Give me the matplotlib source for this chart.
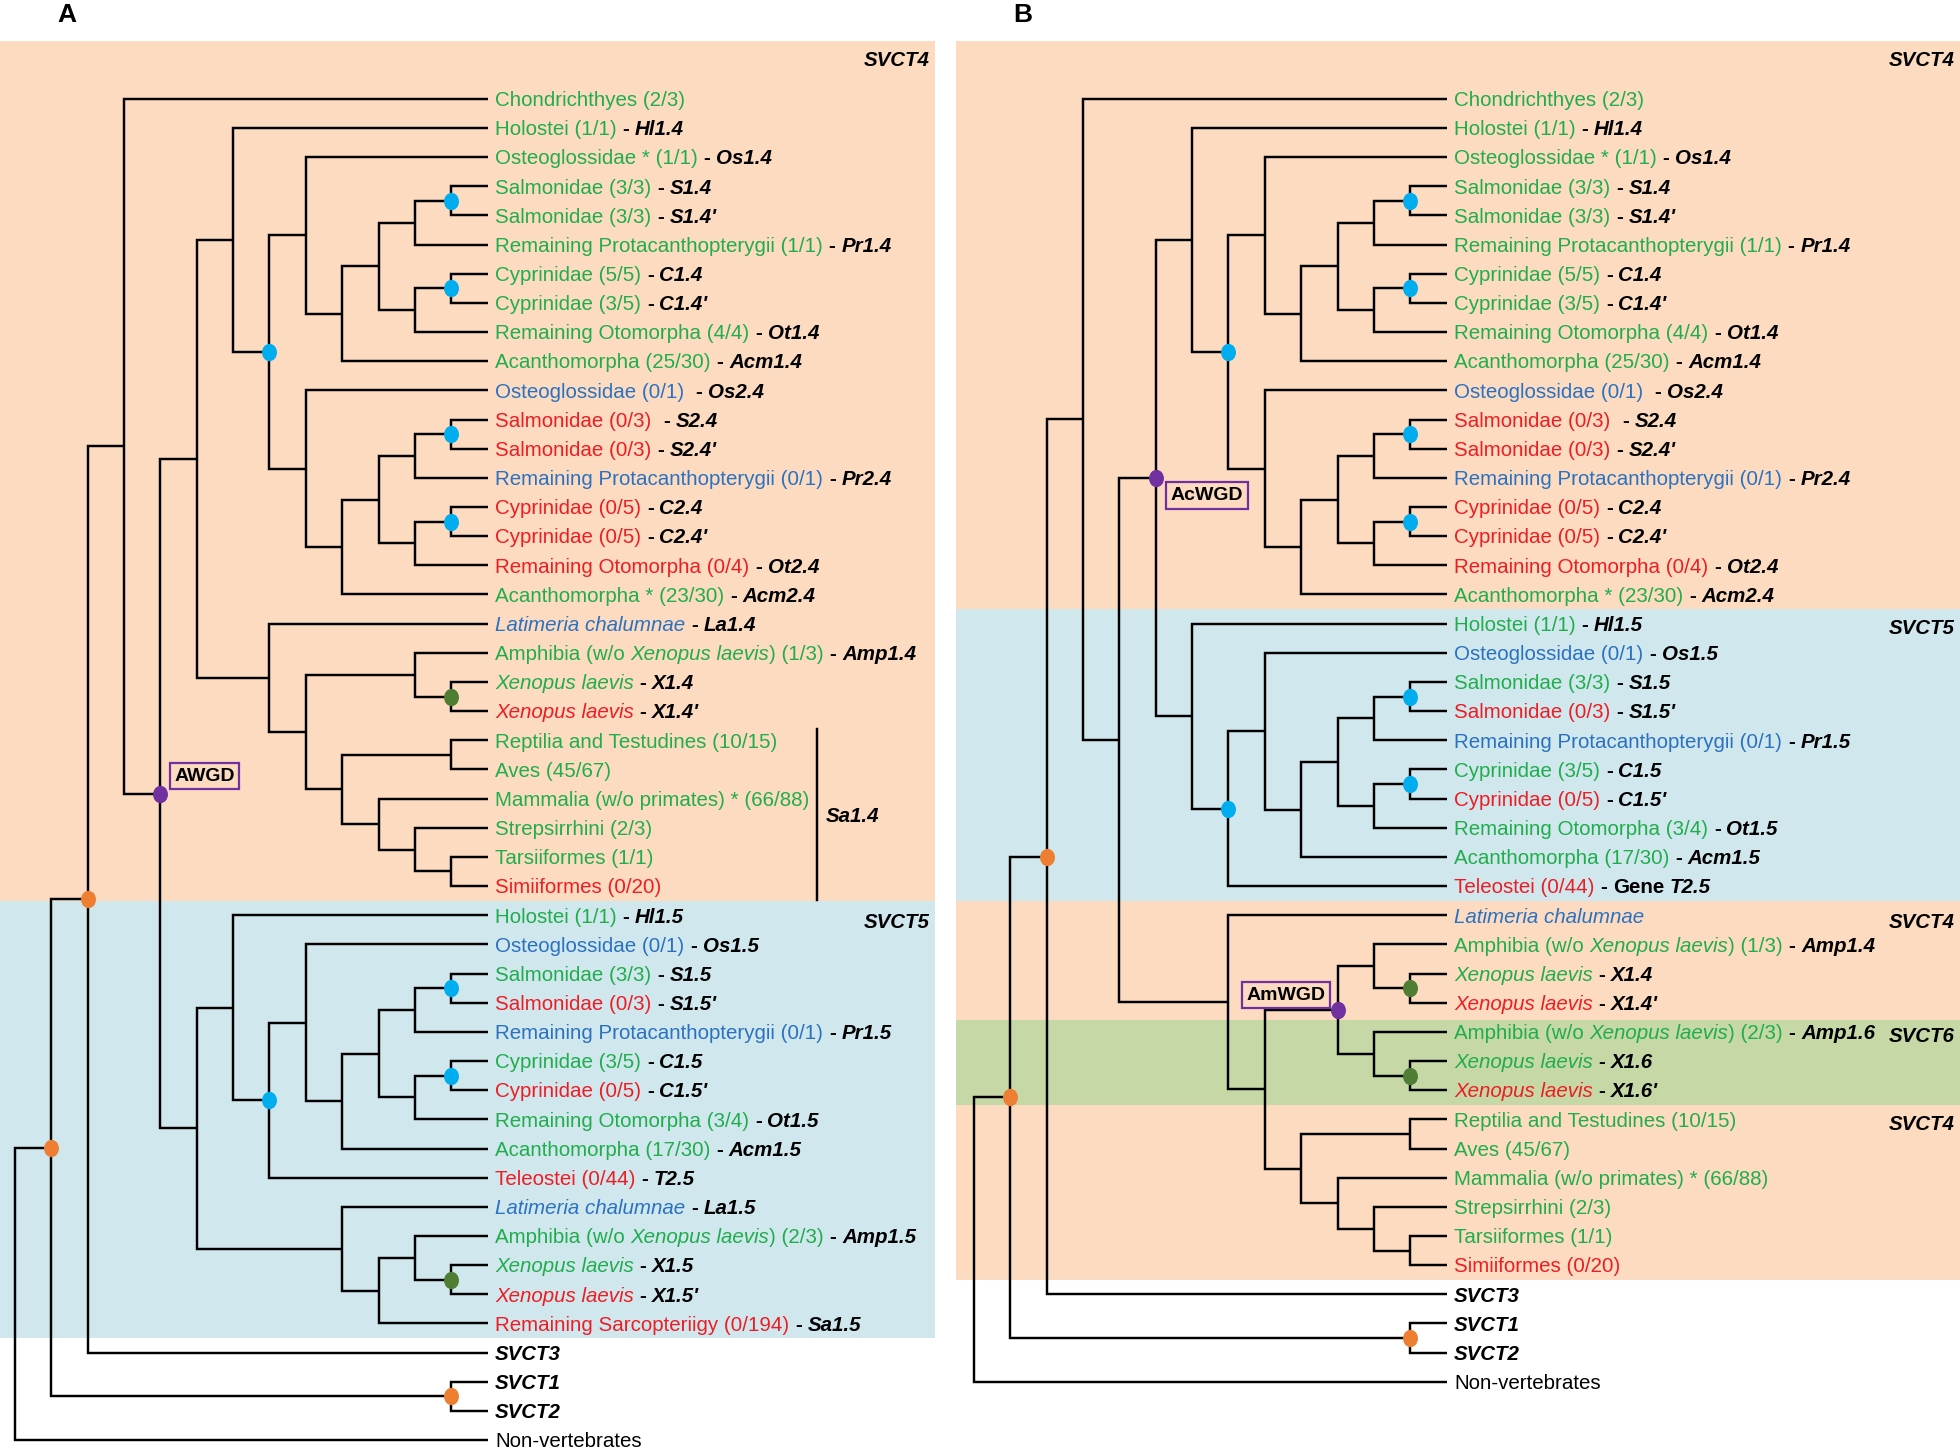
import matplotlib
matplotlib.use('Agg')
import matplotlib.pyplot as plt
from matplotlib.path import Path
from matplotlib.transforms import Affine2D
from matplotlib.markers import MarkerStyle

plt.rcParams['font.family'] = ['Liberation Sans', 'DejaVu Sans']

# colours
TEXT_COL = {'g': '#1fae4b', 'r': '#ee1d23', 'b': '#2a72c0', 'k': 'black'}
DOT_COL = {'o': '#ee7f32', 'b': '#00aeef', 'g': '#4e7d33', 'p': '#7030a0'}
BG_ORANGE = '#fcdbc0'
BG_BLUE = '#d0e7ee'
BG_GREEN = '#c6d8a6'

# ---------------- panel A leaves ----------------
a_names = [
    'Chondrichthyes (2/3)', 'Holostei (1/1)', 'Osteoglossidae * (1/1)', 'Salmonidae (3/3)', 'Salmonidae (3/3)',
    'Remaining Protacanthopterygii (1/1)', 'Cyprinidae (5/5)', 'Cyprinidae (3/5)', 'Remaining Otomorpha (4/4)',
    'Acanthomorpha (25/30)',
    'Osteoglossidae (0/1) ', 'Salmonidae (0/3) ', 'Salmonidae (0/3)', 'Remaining Protacanthopterygii (0/1)',
    'Cyprinidae (0/5)', 'Cyprinidae (0/5)', 'Remaining Otomorpha (0/4)', 'Acanthomorpha * (23/30)',
    '_Latimeria chalumnae_', 'Amphibia (w/o _Xenopus laevis_) (1/3)', '_Xenopus laevis_', '_Xenopus laevis_',
    'Reptilia and Testudines (10/15)', 'Aves (45/67)', 'Mammalia (w/o primates) * (66/88)', 'Strepsirrhini (2/3)',
    'Tarsiiformes (1/1)', 'Simiiformes (0/20)',
    'Holostei (1/1)', 'Osteoglossidae (0/1)', 'Salmonidae (3/3)', 'Salmonidae (0/3)',
    'Remaining Protacanthopterygii (0/1)', 'Cyprinidae (3/5)', 'Cyprinidae (0/5)', 'Remaining Otomorpha (3/4)',
    'Acanthomorpha (17/30)', 'Teleostei (0/44)',
    '_Latimeria chalumnae_', 'Amphibia (w/o _Xenopus laevis_) (2/3)', '_Xenopus laevis_', '_Xenopus laevis_',
    'Remaining Sarcopteriigy (0/194)',
    '', '', '', 'Non-vertebrates']
a_colors = 'gggggggggg' + 'brrbrrrg' + 'bggr' + 'gggggr' + 'gbgrbgrggr' + 'bggrr' + 'kkkk'
a_genes = [
    '', 'Hl1.4', 'Os1.4', 'S1.4', "S1.4'", 'Pr1.4', 'C1.4', "C1.4'", 'Ot1.4', 'Acm1.4',
    'Os2.4', 'S2.4', "S2.4'", 'Pr2.4', 'C2.4', "C2.4'", 'Ot2.4', 'Acm2.4',
    'La1.4', 'Amp1.4', 'X1.4', "X1.4'", '', '', '', '', '', '',
    'Hl1.5', 'Os1.5', 'S1.5', "S1.5'", 'Pr1.5', 'C1.5', "C1.5'", 'Ot1.5', 'Acm1.5', 'T2.5',
    'La1.5', 'Amp1.5', 'X1.5', "X1.5'", 'Sa1.5', 'SVCT3', 'SVCT1', 'SVCT2', '']
a_bands = [(-3, 27.5, BG_ORANGE), (27.5, 42.5, BG_BLUE)]
a_band_labels = [(-1.37, 'SVCT4'), (28.2, 'SVCT5')]

# ---------------- panel B leaves ----------------
b_names = a_names[:18] + [
    'Holostei (1/1)', 'Osteoglossidae (0/1)', 'Salmonidae (3/3)', 'Salmonidae (0/3)',
    'Remaining Protacanthopterygii (0/1)', 'Cyprinidae (3/5)', 'Cyprinidae (0/5)', 'Remaining Otomorpha (3/4)',
    'Acanthomorpha (17/30)', 'Teleostei (0/44)',
    '_Latimeria chalumnae_', 'Amphibia (w/o _Xenopus laevis_) (1/3)', '_Xenopus laevis_', '_Xenopus laevis_',
    'Amphibia (w/o _Xenopus laevis_) (2/3)', '_Xenopus laevis_', '_Xenopus laevis_',
    'Reptilia and Testudines (10/15)', 'Aves (45/67)', 'Mammalia (w/o primates) * (66/88)', 'Strepsirrhini (2/3)',
    'Tarsiiformes (1/1)', 'Simiiformes (0/20)',
    '', '', '', 'Non-vertebrates']
b_colors = 'gggggggggg' + 'brrbrrrg' + 'gbgrbgrggr' + 'bggrggr' + 'gggggr' + 'kkkk'
b_genes = a_genes[:18] + [
    'Hl1.5', 'Os1.5', 'S1.5', "S1.5'", 'Pr1.5', 'C1.5', "C1.5'", 'Ot1.5', 'Acm1.5', 'Gene T2.5',
    '', 'Amp1.4', 'X1.4', "X1.4'", 'Amp1.6', 'X1.6', "X1.6'",
    '', '', '', '', '', '',
    'SVCT3', 'SVCT1', 'SVCT2', '']
b_bands = [(-3, 17.5, BG_ORANGE), (17.5, 27.5, BG_BLUE), (27.5, 31.6, BG_ORANGE),
           (31.6, 34.5, BG_GREEN), (34.5, 40.5, BG_ORANGE)]
b_band_labels = [(-1.37, 'SVCT4'), (18.1, 'SVCT5'), (28.2, 'SVCT4'), (32.1, 'SVCT6'), (35.1, 'SVCT4')]


# ---------------- topologies (node level, children, dot colour, tag) ----------------
def node(level, kids, dot=None, tag=None):
    return {'level': level, 'kids': kids, 'dot': dot, 'tag': tag}


def teleosts(r):
    # Osteoglossidae, (((Salm, Salm'), Prot), ((Cyp, Cyp'), Otomorpha)), Acanthomorpha
    return node(8, [r, node(9, [node(10, [node(11, [node(12, [r + 1, r + 2], 'b'), r + 3]),
                                          node(11, [node(12, [r + 4, r + 5], 'b'), r + 6])]), r + 7])])


svct4_a = node(5, [node(6, [1, node(7, [teleosts(2), teleosts(10)], 'b')]),
                   node(7, [18, node(8, [node(11, [19, node(12, [20, 21], 'g')]),
                                         node(9, [node(12, [22, 23]),
                                                  node(10, [24, node(11, [25, node(12, [26, 27])])])])])])])
svct5_a = node(5, [node(6, [28, node(7, [teleosts(29), 37], 'b')]),
                   node(9, [38, node(10, [node(11, [39, node(12, [40, 41], 'g')]), 42])])])
tree_a = node(0, [node(1, [node(2, [node(3, [0, node(4, [svct4_a, svct5_a], 'p', 'AWGD')]), 43], 'o'),
                           node(12, [44, 45], 'o')], 'o'), 46])

acwgd_b = node(5, [node(6, [1, node(7, [teleosts(2), teleosts(10)], 'b')]),
                   node(6, [18, node(7, [teleosts(19), 27], 'b')])], 'p', 'AcWGD')
amwgd_b = node(10, [node(11, [29, node(12, [30, 31], 'g')]),
                    node(11, [32, node(12, [33, 34], 'g')])], 'p', 'AmWGD')
amniotes_b = node(9, [node(12, [35, 36]), node(10, [37, node(11, [38, node(12, [39, 40])])])])
tetra_b = node(7, [28, node(8, [amwgd_b, amniotes_b])])
tree_b = node(0, [node(1, [node(2, [node(3, [0, node(4, [acwgd_b, tetra_b])]), 41], 'o'),
                           node(12, [42, 43], 'o')], 'o'), 44])

# ---------------- style ----------------
TIP = 13
FS = 14.8
SPACE = 0.278 * FS
LW = 1.75
LABEL_PAD = 5.5
TEXT_DY = -1.3
DOT = MarkerStyle(Path.unit_circle().transformed(Affine2D().scale(0.86, 1.0)))
TAG_POS = {'AWGD': ((10, 6.5), 'left', 'bottom'),
           'AcWGD': ((10.5, -6.5), 'left', 'top'),
           'AmWGD': ((-8.5, 4.5), 'right', 'bottom')}


def draw_tree(ax, nd):
    if isinstance(nd, int):
        return TIP, nd
    pts = [draw_tree(ax, k) for k in nd['kids']]
    x = nd['level']
    y = (pts[0][1] + pts[-1][1]) / 2
    for cx, cy in pts:
        ax.plot([x, x, cx], [y, cy, cy], color='black', lw=LW,
                solid_joinstyle='miter', solid_capstyle='butt', zorder=2)
    if nd['dot']:
        ax.plot(x, y, marker=DOT, ms=12.5, color=DOT_COL[nd['dot']], mec='none', zorder=4)
    if nd['tag']:
        off, ha, va = TAG_POS[nd['tag']]
        ax.annotate(nd['tag'], (x, y), xytext=off, textcoords='offset points', ha=ha, va=va,
                    fontsize=14, fontweight='bold', zorder=5,
                    bbox=dict(boxstyle='square,pad=0.24', fc=BG_ORANGE, ec=DOT_COL['p'], lw=1.6))
    return x, y


def draw_label(ax, row, name, col, gene):
    pieces = []
    pending = 0
    for i, s in enumerate(name.split('_')):
        core = s.strip(' ')
        if not core:
            pending += len(s)
            continue
        lead = len(s) - len(s.lstrip(' '))
        pieces.append((core, TEXT_COL[col], 'normal', 'italic' if i % 2 else 'normal', pending + lead))
        pending = len(s) - len(s.rstrip(' '))
    if gene:
        words = gene.split(' ')
        if name:
            pieces.append(('-', 'black', 'bold', 'normal', pending + 1))
            pending = 1
        for w in words[:-1]:
            pieces.append((w, 'black', 'bold', 'normal', pending))
            pending = 1
        pieces.append((words[-1], 'black', 'bold', 'italic', pending))
    prev = None
    for text, c, wt, st, gap in pieces:
        if prev is None:
            prev = ax.annotate(text, (TIP, row), xytext=(LABEL_PAD, TEXT_DY), textcoords='offset points',
                               ha='left', va='center', fontsize=FS, color=c, fontweight=wt, fontstyle=st)
        else:
            prev = ax.annotate(text, (1, 0), xycoords=prev, xytext=(gap * SPACE, 0),
                               textcoords='offset points', ha='left', va='bottom',
                               fontsize=FS, color=c, fontweight=wt, fontstyle=st)


def draw_panel(ax, tree, names, colors, genes, bands, band_labels):
    for y0, y1, c in bands:
        ax.axhspan(y0, y1, color=c, lw=0, zorder=0)
    for y, t in band_labels:
        ax.annotate(t, (1, y), xycoords=('axes fraction', 'data'), xytext=(-4, TEXT_DY),
                    textcoords='offset points', ha='right', va='center',
                    fontsize=FS, fontweight='bold', fontstyle='italic')
    draw_tree(ax, tree)
    for row, (n, c, g) in enumerate(zip(names, colors, genes)):
        draw_label(ax, row, n, c, g)
    ax.set_axis_off()


W, H = 1960, 1448
fig = plt.figure(figsize=(W / 100, H / 100), dpi=100)
top = 1 - 41.25 / H
row0, drow = 98.75, 29.16
ylim = ((H - row0) / drow, (41.25 - row0) / drow)
step = 36.35

ax_a = fig.add_axes([0, 0, 935 / W, top])
ax_a.set_xlim(-15 / step, (935 - 15) / step)
ax_a.set_ylim(*ylim)
draw_panel(ax_a, tree_a, a_names, a_colors, a_genes, a_bands, a_band_labels)
# bracket for the sarcopterygian SVCT4 genes
ax_a.plot([22.05, 22.05], [21.62, 27.47], color='black', lw=LW, zorder=2)
ax_a.text(22.3, 24.6, 'Sa1.4', fontsize=FS, fontweight='bold', fontstyle='italic', va='center', ha='left')

ax_b = fig.add_axes([956 / W, 0, (W - 956) / W, top])
ax_b.set_xlim(-18 / step, (W - 974) / step)
ax_b.set_ylim(*ylim)
draw_panel(ax_b, tree_b, b_names, b_colors, b_genes, b_bands, b_band_labels)

fig.text(67 / W, 1 - 15 / H, 'A', fontsize=19, fontweight='bold', ha='center', va='center')
fig.text(1023 / W, 1 - 15 / H, 'B', fontsize=19, fontweight='bold', ha='center', va='center')

fig.savefig('out.png', dpi=100, facecolor='white')
